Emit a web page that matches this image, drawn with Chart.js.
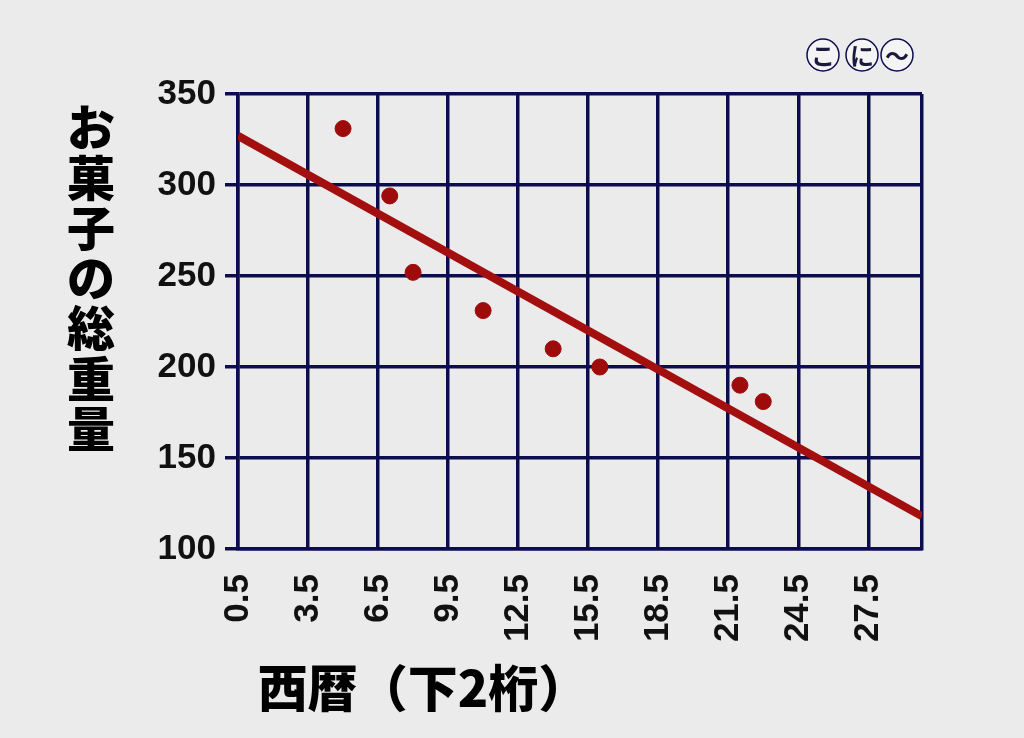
<!DOCTYPE html>
<html lang="ja">
<head>
<meta charset="utf-8">
<title>お菓子の総重量</title>
<script src="https://cdn.jsdelivr.net/npm/chart.js@4.4.1/dist/chart.umd.min.js"></script>
<style>
  html, body { margin: 0; padding: 0; background: #ebebeb; }
  #wrap { width: 1024px; height: 738px; position: relative; }
</style>
</head>
<body>
<div id="wrap"><canvas id="sweetsChart"></canvas></div>
<script>
// data
const years = [5, 7, 8, 11, 14, 16, 22, 23];
const weights = [331, 294, 252, 231, 210, 200, 190, 181];
const trendX = [0.5, 29.8];
const trendY = [327, 118];
const xTicks = [0.5, 3.5, 6.5, 9.5, 12.5, 15.5, 18.5, 21.5, 24.5, 27.5];
const yTicks = [100, 150, 200, 250, 300, 350];
const xMin = 0.5, xMax = 29.8;
const yTitle = 'お菓子の総重量';
const xTitle = '西暦（下2桁）';
const badge = ['こ', 'に', '〜'];

const navy = '#0c0c4e';
const red = '#9e0b0b';
const tickFont = { family: '"Liberation Sans Narrow", "Liberation Sans", sans-serif', size: 35, weight: 'bold' };
const jpFont = '"Noto Sans CJK JP", "Noto Sans", sans-serif';

const titles = {
  id: 'titles',
  afterDraw(chart) {
    const c = chart.ctx;
    c.save();
    c.fillStyle = '#000';
    c.textAlign = 'center';
    c.textBaseline = 'middle';

    // vertical y title, upright characters
    c.font = `900 48px ${jpFont}`;
    [...yTitle].forEach((ch, i) => c.fillText(ch, 91, 127 + i * 50.3));

    // x title
    c.font = `900 50px ${jpFont}`;
    c.fillText(xTitle, 423, 688);

    // circled signature
    const cx = [823, 862, 897];
    c.lineWidth = 1.5;
    c.strokeStyle = navy;
    badge.forEach((ch, i) => {
      c.beginPath();
      c.arc(cx[i], 55, 16, 0, Math.PI * 2);
      c.fillStyle = '#f4f4f4';
      c.fill();
      c.stroke();
      c.fillStyle = '#1a1a3a';
      c.font = `bold 24px ${jpFont}`;
      c.fillText(ch, cx[i], 56);
    });
    c.restore();
  }
};

new Chart(document.getElementById('sweetsChart'), {
  type: 'scatter',
  data: {
    datasets: [
      {
        type: 'line',
        data: trendX.map((x, i) => ({ x, y: trendY[i] })),
        borderColor: '#a30f0f',
        borderWidth: 8,
        pointRadius: 0,
        order: 2
      },
      {
        data: years.map((x, i) => ({ x, y: weights[i] })),
        backgroundColor: red,
        borderColor: red,
        pointRadius: 8,
        pointHoverRadius: 8,
        order: 1
      }
    ]
  },
  options: {
    responsive: true,
    maintainAspectRatio: false,
    animation: false,
    layout: { padding: { top: 94, right: 102, left: 0, bottom: 0 } },
    plugins: {
      legend: { display: false },
      tooltip: { enabled: false }
    },
    scales: {
      x: {
        type: 'linear',
        min: xMin,
        max: xMax,
        afterBuildTicks: axis => {
          axis.ticks = [...xTicks, xMax].map(v => ({ value: v }));
        },
        afterFit: axis => { axis.height = 189; },
        grid: { color: navy, lineWidth: 3.5, drawTicks: false },
        border: { display: true, color: navy, width: 3.5 },
        ticks: {
          autoSkip: false,
          minRotation: 90,
          maxRotation: 90,
          padding: 25,
          color: '#111',
          font: tickFont,
          callback: v => xTicks.includes(v) ? v.toFixed(1) : ''
        }
      },
      y: {
        min: yTicks[0],
        max: yTicks[yTicks.length - 1],
        afterBuildTicks: axis => {
          axis.ticks = yTicks.map(v => ({ value: v }));
        },
        afterFit: axis => { axis.width = 238; },
        grid: { color: navy, lineWidth: 3.5, tickLength: 13 },
        border: { display: true, color: navy, width: 3.5 },
        ticks: {
          padding: 9,
          color: '#111',
          font: tickFont
        }
      }
    }
  },
  plugins: [titles]
});
</script>
</body>
</html>
